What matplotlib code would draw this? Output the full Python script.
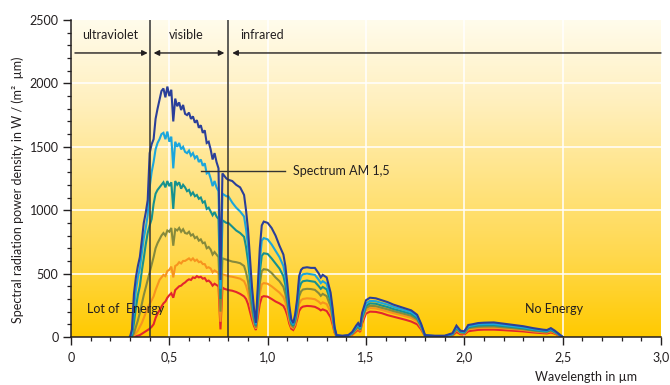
import numpy as np
import matplotlib
matplotlib.use("Agg")
import matplotlib.pyplot as plt
from matplotlib.colors import LinearSegmentedColormap
from matplotlib.ticker import MultipleLocator, FuncFormatter

plt.rcParams['font.family'] = ['Lato', 'DejaVu Sans']

# ---------------------------------------------------------------- data
# wavelength grid in µm
wl_visible = [0.30, 0.31, 0.32, 0.33, 0.34, 0.35, 0.36, 0.37, 0.38, 0.39,
              0.40, 0.41, 0.42, 0.43, 0.44, 0.45, 0.46, 0.47, 0.48, 0.49,
              0.50, 0.51, 0.52, 0.53, 0.54, 0.55, 0.56, 0.57, 0.58, 0.59,
              0.60, 0.61, 0.62, 0.63, 0.64, 0.65, 0.66, 0.67, 0.68, 0.69,
              0.70, 0.71, 0.72, 0.73, 0.74, 0.75, 0.76, 0.77, 0.78, 0.79,
              0.80]
wl_infrared = [0.82, 0.84, 0.86, 0.88, 0.89,
               0.90, 0.91, 0.92, 0.93, 0.94,
               0.95, 0.96, 0.97, 0.98, 1.00,
               1.02, 1.04, 1.06, 1.08, 1.09,
               1.10, 1.11, 1.12, 1.13, 1.14,
               1.15, 1.16, 1.17, 1.18, 1.20,
               1.22, 1.24, 1.26, 1.27, 1.28,
               1.30, 1.32, 1.33, 1.34, 1.35,
               1.38, 1.41, 1.43, 1.45, 1.46,
               1.47, 1.48, 1.50, 1.52, 1.55,
               1.58, 1.61, 1.64, 1.67, 1.70,
               1.73, 1.76, 1.78, 1.80, 1.85,
               1.90, 1.94, 1.96, 1.98, 2.00,
               2.02, 2.04, 2.07, 2.10, 2.15,
               2.20, 2.25, 2.30, 2.35, 2.40,
               2.42, 2.44, 2.46, 2.48, 2.50]

# spectral power density in W/(m² µm), one list pair per curve
darkblue_vis = [0, 60, 340, 470, 560, 630, 760, 900, 980, 1080,
                1450, 1520, 1560, 1720, 1800, 1870, 1940, 1960, 1890, 1975,
                1900, 1950, 1700, 1880, 1820, 1850, 1790, 1830, 1760, 1750,
                1770, 1720, 1740, 1690, 1710, 1650, 1670, 1610, 1630, 1530,
                1540, 1480, 1400, 1450, 1380, 1330, 450, 1290, 1270, 1250,
                1240]
darkblue_ir = [1230, 1200, 1180, 1120, 1000,
               850, 620, 400, 230, 110,
               400, 700, 880, 910, 900,
               860, 800, 720, 650, 560,
               420, 250, 140, 110, 180,
               300, 480, 530, 545, 550,
               545, 545, 500, 470, 490,
               470, 350, 230, 80, 15,
               10, 15, 40, 90, 110,
               80, 190, 290, 310, 305,
               290, 275, 255, 240, 225,
               210, 175, 105, 15, 10,
               10, 30, 90, 50, 45,
               95, 100, 110, 113, 115,
               105, 95, 85, 70, 58,
               55, 70, 50, 25, 0]

cyan_vis = [0, 30, 230, 370, 470, 540, 660, 780, 860, 960,
            1180, 1300, 1380, 1480, 1530, 1560, 1600, 1610, 1560, 1620,
            1540, 1580, 1330, 1540, 1500, 1530, 1480, 1500, 1460, 1450,
            1470, 1430, 1450, 1410, 1430, 1380, 1400, 1350, 1370, 1290,
            1300, 1250, 1190, 1230, 1180, 1150, 380, 1130, 1120, 1110,
            1110]
cyan_ir = [1060, 1020, 990, 950, 850,
           720, 530, 340, 200, 100,
           350, 600, 760, 780, 770,
           730, 680, 630, 560, 480,
           360, 220, 125, 100, 160,
           270, 430, 480, 495, 500,
           495, 490, 450, 425, 440,
           420, 310, 200, 70, 12,
           8, 12, 35, 80, 100,
           70, 170, 265, 285, 282,
           268, 255, 237, 224, 210,
           196, 163, 97, 12, 8,
           8, 25, 80, 45, 40,
           85, 90, 100, 102, 103,
           94, 85, 76, 62, 52,
           50, 63, 45, 22, 0]

teal_vis = [0, 10, 110, 230, 330, 400, 520, 620, 730, 820,
            880, 930, 1050, 1130, 1160, 1180, 1200, 1220, 1180, 1230,
            1190, 1220, 1010, 1230, 1200, 1220, 1170, 1200, 1180, 1150,
            1160, 1120, 1140, 1110, 1120, 1090, 1100, 1060, 1070, 1010,
            1020, 990, 960, 985, 950, 930, 300, 920, 910, 900,
            900]
teal_ir = [870, 840, 820, 790, 710,
           600, 450, 290, 170, 90,
           300, 510, 640, 660, 655,
           620, 580, 540, 480, 410,
           310, 190, 110, 90, 140,
           240, 380, 425, 440, 445,
           440, 435, 400, 380, 395,
           375, 280, 180, 62, 10,
           7, 10, 30, 72, 90,
           62, 155, 245, 265, 262,
           248, 236, 220, 208, 195,
           182, 150, 90, 10, 7,
           7, 22, 72, 40, 36,
           77, 82, 90, 92, 93,
           85, 77, 68, 56, 47,
           45, 57, 40, 20, 0]

olive_vis = [0, 0, 30, 80, 130, 190, 260, 330, 390, 450,
             510, 570, 630, 700, 740, 770, 800, 820, 800, 840,
             830, 860, 720, 850, 840, 860, 830, 850, 820, 815,
             830, 800, 810, 780, 790, 760, 770, 740, 745, 700,
             710, 690, 650, 670, 650, 630, 200, 620, 615, 610,
             605]
olive_ir = [595, 590, 582, 560, 510,
            440, 330, 220, 130, 75,
            240, 420, 520, 535, 530,
            505, 470, 440, 395, 340,
            260, 160, 95, 80, 120,
            205, 320, 360, 375, 380,
            378, 372, 345, 325, 340,
            322, 240, 155, 55, 8,
            5, 8, 26, 64, 80,
            55, 140, 228, 246, 243,
            230, 218, 204, 192, 180,
            167, 138, 82, 8, 5,
            5, 19, 64, 35, 32,
            69, 74, 80, 82, 83,
            76, 69, 61, 50, 42,
            40, 51, 36, 18, 0]

orange_vis = [0, 0, 10, 30, 50, 80, 110, 150, 190, 230,
              260, 290, 320, 370, 410, 450, 470, 490, 480, 520,
              530, 555, 470, 560, 570, 590, 580, 600, 600, 610,
              620, 605, 620, 600, 610, 590, 595, 575, 575, 545,
              550, 540, 510, 525, 515, 505, 120, 495, 490, 485,
              480]
orange_ir = [475, 468, 460, 440, 405,
             350, 270, 180, 110, 65,
             200, 340, 415, 425, 420,
             400, 375, 350, 315, 275,
             210, 130, 80, 70, 100,
             170, 260, 290, 300, 305,
             303, 298, 278, 262, 273,
             260, 195, 125, 45, 6,
             4, 6, 22, 55, 70,
             48, 125, 210, 228, 225,
             213, 200, 188, 176, 164,
             150, 124, 74, 6, 4,
             4, 16, 56, 30, 28,
             61, 66, 71, 73, 74,
             68, 62, 55, 45, 37,
             35, 45, 32, 16, 0]

red_vis = [0, 0, 0, 5, 10, 15, 25, 35, 45, 55,
           65, 80, 100, 150, 185, 210, 240, 265, 280, 310,
           330, 345, 310, 370, 385, 400, 405, 420, 430, 445,
           455, 450, 470, 465, 480, 470, 475, 460, 465, 440,
           445, 430, 405, 420, 410, 400, 60, 390, 380, 375,
           370]
red_ir = [365, 355, 340, 320, 300,
          260, 200, 140, 90, 55,
          160, 260, 315, 322, 318,
          300, 280, 265, 245, 215,
          170, 105, 65, 55, 85,
          140, 205, 230, 240, 245,
          243, 238, 222, 210, 218,
          205, 155, 100, 35, 5,
          3, 5, 18, 45, 58,
          40, 105, 185, 200, 198,
          188, 172, 160, 148, 136,
          122, 100, 60, 5, 3,
          3, 12, 40, 22, 20,
          45, 50, 56, 58, 58,
          54, 49, 44, 36, 30,
          28, 36, 26, 12, 0]

# drawn bottom-up: red first, dark blue last
curves = [
    (red_vis, red_ir, "#E3262C"),
    (orange_vis, orange_ir, "#F7941E"),
    (olive_vis, olive_ir, "#868A3C"),
    (teal_vis, teal_ir, "#15918F"),
    (cyan_vis, cyan_ir, "#1BA6DC"),
    (darkblue_vis, darkblue_ir, "#2B3F99"),
]

x_ticks = [0.0, 0.5, 1.0, 1.5, 2.0, 2.5, 3.0]
y_ticks = [0, 500, 1000, 1500, 2000, 2500]
band_edges = [0.4, 0.8]

# ---------------------------------------------------------------- figure
fig = plt.figure(figsize=(6.7, 3.85), dpi=100)
ax = fig.add_axes([71 / 670, 48 / 385, 590 / 670, 317 / 385])

text_color = "#231F20"

# warm vertical gradient behind the plot
grad_cmap = LinearSegmentedColormap.from_list(
    "sun", [(0.0, "#FFCA00"), (0.25, "#FFD84C"), (0.5, "#FFE486"),
            (0.75, "#FFF0C0"), (1.0, "#FFFCEC")])
ax.imshow(np.linspace(0, 1, 256).reshape(-1, 1), cmap=grad_cmap,
          origin="lower", extent=[0, 3, 0, 2500], aspect="auto", zorder=0)

# white grid
for xv in x_ticks[1:-1]:
    ax.axvline(xv, color="white", lw=1.1, zorder=1)
for yv in y_ticks[1:-1]:
    ax.axhline(yv, color="white", lw=1.1, zorder=1)

# spectra
for vis, ir, col in curves:
    ax.plot(wl_visible + wl_infrared, vis + ir, color=col, lw=1.5,
            solid_joinstyle="miter", zorder=3)

# band boundaries
for xv in band_edges:
    ax.axvline(xv, color="#333333", lw=1.1, zorder=4)

# band arrows
arrow_y = 2240
akw = dict(color=text_color, lw=1.0, shrinkA=0, shrinkB=0, mutation_scale=8)
ax.annotate("", xy=(0.39, arrow_y), xytext=(0.02, arrow_y),
            arrowprops=dict(arrowstyle="-|>", **akw), zorder=5)
ax.annotate("", xy=(0.78, arrow_y), xytext=(0.42, arrow_y),
            arrowprops=dict(arrowstyle="<|-|>", **akw), zorder=5)
ax.annotate("", xy=(0.82, arrow_y), xytext=(3.0, arrow_y),
            arrowprops=dict(arrowstyle="-|>", **akw), zorder=5)

ax.text(0.2, 2380, "ultraviolet", ha="center", va="center", fontsize=9,
        color=text_color, zorder=6)
ax.text(0.585, 2380, "visible", ha="center", va="center", fontsize=9,
        color=text_color, zorder=6)
ax.text(0.97, 2380, "infrared", ha="center", va="center", fontsize=9,
        color=text_color, zorder=6)

# AM 1,5 callout
ax.plot([0.66, 1.09], [1309, 1309], color="#333333", lw=1.0, zorder=5)
ax.text(1.13, 1309, "Spectrum AM 1,5", ha="left", va="center", fontsize=9,
        color=text_color, zorder=6)

ax.text(0.08, 221, "Lot of  Energy", ha="left", va="center", fontsize=9,
        color=text_color, zorder=6)
ax.text(2.31, 221, "No Energy", ha="left", va="center", fontsize=9,
        color=text_color, zorder=6)

# axes
ax.set_xlim(0, 3)
ax.set_ylim(0, 2500)
ax.set_xticks(x_ticks)
ax.set_yticks(y_ticks)
ax.xaxis.set_minor_locator(MultipleLocator(0.1))
ax.yaxis.set_minor_locator(MultipleLocator(100))
ax.xaxis.set_major_formatter(
    FuncFormatter(lambda v, p: "0" if v == 0 else f"{v:.1f}".replace(".", ",")))
ax.tick_params(which="major", direction="out", length=5.5, width=1.0,
               color=text_color, labelsize=9, labelcolor=text_color)
ax.tick_params(which="minor", direction="out", length=3.2, width=0.9,
               color=text_color)
ax.tick_params(axis="x", which="major", pad=5)
for side in ("top", "right"):
    ax.spines[side].set_visible(False)
for side in ("left", "bottom"):
    ax.spines[side].set_color(text_color)
    ax.spines[side].set_linewidth(1.1)
    ax.spines[side].set_zorder(7)

fig.text(18 / 670, 1 - 190 / 385,
         "Spectral radiation power density in W / (m²  µm)",
         rotation=90, ha="center", va="center", fontsize=9, color=text_color)
fig.text(637 / 670, 1 - 377 / 385, "Wavelength in µm", ha="right",
         va="center", fontsize=9, color=text_color)

fig.savefig("out.png", dpi=100)
